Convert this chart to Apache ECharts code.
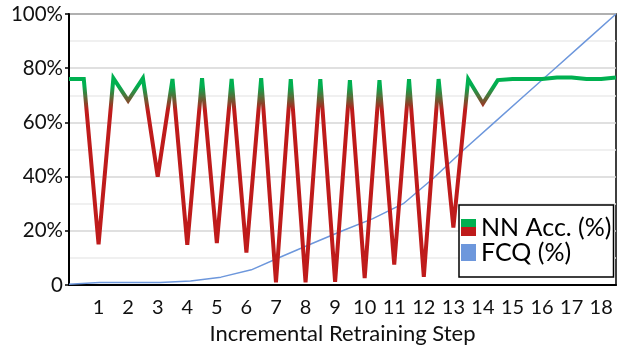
<!DOCTYPE html>
<html style='height: 100%'>
<head>
    <meta charset='utf-8'>
</head>
<body style='height: 100%; margin: 0'>
    <div id='container' style='width: 627px; height: 350px'></div>
    <script type='text/javascript' src='https://cdn.jsdelivr.net/npm/echarts@6/dist/echarts.min.js'></script>
    <script type="text/javascript">

// NN accuracy is sampled every half step, FCQ once per step
var nnSteps = [0, 0.5, 1, 1.5, 2, 2.5, 3, 3.5, 4, 4.5, 5, 5.5, 6, 6.5, 7, 7.5, 8, 8.5, 9, 9.5,
               10, 10.5, 11, 11.5, 12, 12.5, 13, 13.5, 14, 14.5, 15, 15.5, 16, 16.5, 17, 17.5, 18, 18.5];
var nnAcc = [76, 76, 15, 76.3, 68, 76.3, 40, 76, 14.8, 76.3, 15.5, 76, 12, 76.3, 1, 76, 1, 76, 1.2, 75.6,
             2.5, 75.6, 7.5, 76, 3, 76, 21.2, 76, 67, 75.6, 76, 76, 76, 76.6, 76.6, 76, 76, 76.6];
var fcqSteps = [0, 1, 2, 3, 4, 5, 6, 7, 8, 9, 10, 11, 12, 13, 14, 15, 16, 17, 18];
var fcq = [0.3, 0.9, 0.9, 0.9, 1.5, 2.9, 5.6, 10.5, 15.3, 20, 24.5, 30, 39.5, 50, 60, 70, 80, 90, 100];
var xTicks = [1, 2, 3, 4, 5, 6, 7, 8, 9, 10, 11, 12, 13, 14, 15, 16, 17, 18];

var dom = document.getElementById("container");
var myChart = echarts.init(dom);

var green = '#00B050', red = '#BF1B1B', blue = '#6D97DC';
var font = 'Lato';

function pairs(xs, ys) {
    var out = [];
    for (let i = 0; i < xs.length; i++) out.push([xs[i], ys[i]]);
    return out;
}

// vertical gradient in pixel space: green on the top part, red below
var nnColor = new echarts.graphic.LinearGradient(0, 86, 0, 110, [
    {offset: 0, color: green},
    {offset: 1, color: red}
], true);
var nnIcon = new echarts.graphic.LinearGradient(0, 0, 0, 1, [
    {offset: 0, color: green}, {offset: 0.5, color: green},
    {offset: 0.5, color: red}, {offset: 1, color: red}
]);

option = {
    animation: false,
    textStyle: {fontFamily: font},
    grid: {
        left: 69, right: 11, top: 14, bottom: 61,
        show: true, borderColor: '#000', borderWidth: 1.5
    },
    legend: {
        orient: 'vertical',
        left: 459, top: 205,
        padding: [10, 2, 12, 2],
        itemGap: 0,
        icon: 'rect',
        itemWidth: 15, itemHeight: 17,
        backgroundColor: '#fff',
        borderColor: '#000', borderWidth: 1.5,
        itemStyle: {borderWidth: 0},
        textStyle: {fontFamily: font, fontSize: 25, color: '#000', lineHeight: 24},
        data: [
            {name: 'NN Acc. (%)', itemStyle: {color: nnIcon}},
            {name: 'FCQ (%)', itemStyle: {color: blue}}
        ]
    },
    xAxis: [{
        type: 'value',
        min: 0, max: 18.5, interval: 1,
        name: 'Incremental Retraining Step',
        nameLocation: 'middle',
        nameGap: 38,
        nameTextStyle: {fontFamily: font, fontSize: 22, color: '#111'},
        axisLine: {lineStyle: {color: '#000', width: 2}},
        axisTick: {show: false},
        splitLine: {show: false},
        axisLabel: {
            fontFamily: font, fontSize: 20, color: '#111', margin: 13,
            showMaxLabel: false,
            formatter: function (v) { return xTicks.indexOf(v) >= 0 ? String(v) : ''; }
        }
    }, {
        type: 'value',
        min: 0, max: 18,
        show: false
    }],
    yAxis: {
        type: 'value',
        min: 0, max: 100, interval: 20,
        axisLine: {show: true, lineStyle: {color: '#000', width: 2}},
        axisTick: {show: true, length: 4, lineStyle: {color: '#000', width: 1.5}},
        axisLabel: {
            fontFamily: font, fontSize: 20.5, color: '#111', margin: 6,
            formatter: function (v) { return v === 0 ? '0' : v + '%'; }
        },
        splitLine: {lineStyle: {color: '#d6d6d6', width: 1.5}},
        minorTick: {show: false, splitNumber: 2},
        minorSplitLine: {show: true, lineStyle: {color: '#ececec', width: 1.5}}
    },
    series: [{
        name: 'FCQ (%)',
        type: 'line',
        xAxisIndex: 1,
        data: pairs(fcqSteps, fcq),
        showSymbol: false,
        itemStyle: {color: blue},
        lineStyle: {color: blue, width: 1.5},
        z: 2
    }, {
        name: 'NN Acc. (%)',
        type: 'line',
        data: pairs(nnSteps, nnAcc),
        showSymbol: false,
        itemStyle: {color: green},
        lineStyle: {color: nnColor, width: 4, join: 'miter', miterLimit: 6},
        z: 3
    }]
};

if (option && typeof option === "object") {
    myChart.setOption(option, true);
}
    </script>
</body>
</html>
